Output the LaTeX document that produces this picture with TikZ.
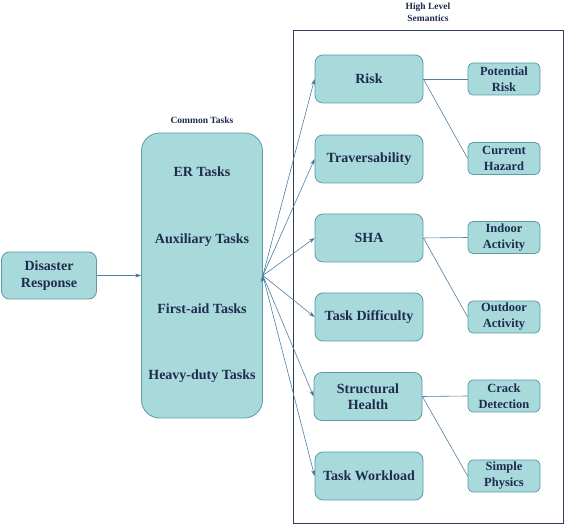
\documentclass[tikz,border=0pt]{standalone}
\usepackage{fontspec}
\setmainfont{Liberation Serif}
\usetikzlibrary{arrows.meta,positioning}
\definecolor{boxfill}{HTML}{A8DADC}
\definecolor{boxline}{HTML}{5B9BA6}
\definecolor{txtcol}{HTML}{1F2B4E}
\definecolor{conncol}{HTML}{4E7FA5}
\definecolor{framecol}{HTML}{2F3D5A}

\begin{document}
\begin{tikzpicture}[x=1pt,y=-1pt,
      box/.style={rectangle, rounded corners=8pt, draw=boxline, fill=boxfill, line width=0.8pt, text=txtcol, inner sep=0pt, align=center, font=\bfseries\fontsize{14}{17.5}\selectfont},
      mid/.style={box, minimum width=108pt, minimum height=48pt, font=\bfseries\fontsize{14}{16.5}\selectfont},
      leaf/.style={box, rounded corners=5pt, minimum width=72pt, minimum height=32pt, font=\bfseries\fontsize{12.5}{16}\selectfont},
      tasktext/.style={text=txtcol, font=\bfseries\fontsize{14}{17}\selectfont},
      caption/.style={text=txtcol, align=center, font=\bfseries\fontsize{9.5}{11.5}\selectfont},
      pfeil/.style={draw=conncol, line width=0.6pt, -{Stealth[length=6pt,width=4pt]}},
      linie/.style={draw=conncol, line width=0.6pt}]

\useasboundingbox (0,0) rectangle (566,526);

% left part
\node[box, minimum width=95pt, minimum height=47pt] (dr) at (49,275.5) {Disaster\\Response};
\node[box, rounded corners=18pt, minimum width=121pt, minimum height=285pt] (ct) at (202,275.5) {};
\node[caption] (ctcap) at (202,120) {Common Tasks};
\node[tasktext] (er) at (202,171.5) {ER Tasks};
\node[tasktext] (aux) at (202,240.5) {Auxiliary Tasks};
\node[tasktext] (fa) at (202,309) {First-aid Tasks};
\node[tasktext] (hd) at (202,376.5) {Heavy-duty Tasks};
\draw[pfeil] (dr) edge (ct);

% high level semantics
\draw[framecol, line width=0.9pt] (293,30) rectangle (563,523);
\node[caption] (hlcap) at (428,12.5) {High Level\\Semantics};

\node[mid] (risk) at (369,79) {Risk};
\node[mid] (trav) at (369,159) {Traversability};
\node[mid] (sha) at (369,238) {SHA};
\node[mid] (td) at (369,317) {Task Difficulty};
\node[mid] (sh) at (368,396.5) {Structural\\Health};
\node[mid] (tw) at (369,476) {Task Workload};

\node[leaf] (pr) at (504,79) {Potential\\Risk};
\node[leaf] (ch) at (504,158.5) {Current\\Hazard};
\node[leaf] (ia) at (504,237.5) {Indoor\\Activity};
\node[leaf] (oa) at (504,317) {Outdoor\\Activity};
\node[leaf] (cd) at (504,396) {Crack\\Detection};
\node[leaf] (sp) at (504,476) {Simple\\Physics};

\draw[pfeil] (ct.east) edge (risk.west);
\draw[pfeil] (ct.east) edge (trav.west);
\draw[pfeil] (ct.east) edge (sha.west);
\draw[pfeil] (ct.east) edge (td.west);
\draw[pfeil] (ct.east) edge (sh.west);
\draw[pfeil] (ct.east) edge (tw.west);

\draw[linie] (risk.east) -- (pr.west);
\draw[linie] (risk.east) -- (ch.west);
\draw[linie] (sha.east) -- (ia.west);
\draw[linie] (sha.east) -- (oa.west);
\draw[linie] (sh.east) -- (cd.west);
\draw[linie] (sh.east) -- (sp.west);

\end{tikzpicture}
\end{document}
